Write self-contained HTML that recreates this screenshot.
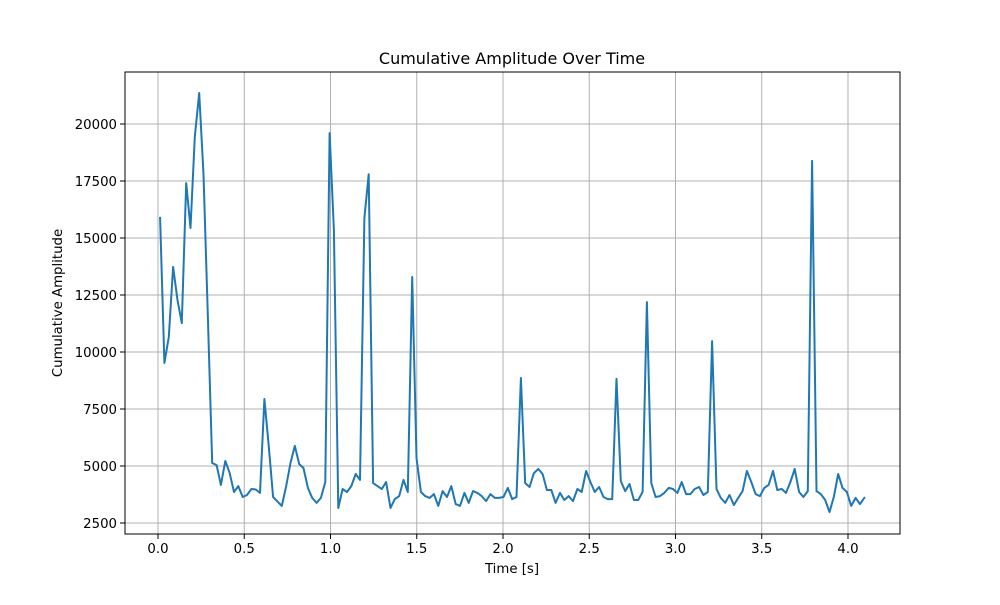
<!DOCTYPE html>
<html><head><meta charset="utf-8"><style>
body{margin:0;background:#fff;}
svg text{font-family:"DejaVu Sans","Liberation Sans",sans-serif;fill:#000;}
</style></head><body>
<svg id="chart" width="1000" height="600" xmlns="http://www.w3.org/2000/svg">
<rect width="1000" height="600" fill="#fff"/>
<g id="grid"></g>
<g id="ticks"></g>
<polyline id="series" fill="none" stroke="#1f77b4" stroke-width="2" stroke-linejoin="round" stroke-linecap="square"/>
<rect x="125" y="72" width="775" height="462" fill="none" stroke="#000" stroke-width="1"/>
<text x="512" y="64" text-anchor="middle" font-size="16">Cumulative Amplitude Over Time</text>
<text x="512" y="573" text-anchor="middle" font-size="13.3">Time [s]</text>
<text x="0" y="0" transform="translate(62,303) rotate(-90)" text-anchor="middle" font-size="13.3">Cumulative Amplitude</text>
</svg>
<script>
const amplitudes = [15880,9520,10660,13730,12280,11270,17410,15440,19430,21360,17800,11500,5130,5040,4170,5220,4700,3860,4120,3640,3730,3990,3970,3820,7940,5900,3640,3450,3250,4100,5130,5880,5090,4910,4040,3600,3380,3600,4300,19600,15350,3160,3990,3860,4120,4650,4390,15880,17800,4250,4120,3990,4300,3160,3550,3680,4390,3860,13290,5350,3860,3680,3600,
3770,3250,3900,3640,4120,3330,3250,3820,3380,3900,3820,3680,3460,3770,3600,3600,3640,4040,3550,3640,8860,4250,4080,4690,4870,4650,3950,3950,3380,3820,3510,
3680,3460,3990,3860,4780,4300,3860,4080,3640,3550,3550,8820,4340,3900,4210,3510,3510,3860,12190,4250,3640,3680,3820,4040,3990,3820,4300,3770,3770,3990,4080,3730,3860,
10480,3990,3600,3380,3730,3290,3600,3900,4780,4300,3770,3680,4040,4170,4780,3950,3990,3820,4300,4870,3860,3640,3900,18380,3900,3770,3510,2980,3640,4650,4040,3860,3250,3600,3330,3600];
const timeStart = 0.012;
const timeStep = 0.0252;
const xTicks = [0.0,0.5,1.0,1.5,2.0,2.5,3.0,3.5,4.0];
const xTickLabels = ["0.0","0.5","1.0","1.5","2.0","2.5","3.0","3.5","4.0"];
const yTicks = [2500,5000,7500,10000,12500,15000,17500,20000];
const yTickLabels = ["2500","5000","7500","10000","12500","15000","17500","20000"];

const NS="http://www.w3.org/2000/svg";
const X0=125,X1=900,Y0=534,Y1=72;
const xMin=-0.1913,xMax=4.3015,yMin=2018,yMax=22281;
function xs(t){return X0+(t-xMin)/(xMax-xMin)*(X1-X0);}
function ys(v){return Y0-(v-yMin)/(yMax-yMin)*(Y0-Y1);}
const grid=document.getElementById('grid'),ticks=document.getElementById('ticks');
function mk(tag,attrs,parent){const e=document.createElementNS(NS,tag);for(const k in attrs)e.setAttribute(k,attrs[k]);parent.appendChild(e);return e;}
xTicks.forEach((t,i)=>{
  const x=xs(t);
  const g=mk('line',{x1:x,x2:x,y1:Y1,y2:Y0,stroke:'#b0b0b0','stroke-width':1},grid);
  
  
  const tk=mk('line',{x1:x,x2:x,y1:Y0,y2:Y0+5,stroke:'#000','stroke-width':1},ticks);
  
  
  const tx=mk('text',{x:x,y:Y0+19,'text-anchor':'middle','font-size':13.3},ticks);
  tx.textContent=xTickLabels[i];
  
  
});
yTicks.forEach((v,i)=>{
  const y=ys(v);
  const g=mk('line',{x1:X0,x2:X1,y1:y,y2:y,stroke:'#b0b0b0','stroke-width':1},grid);
  
  
  const tk=mk('line',{x1:X0-5,x2:X0,y1:y,y2:y,stroke:'#000','stroke-width':1},ticks);
  
  
  const tx=mk('text',{x:X0-8,y:y+5,'text-anchor':'end','font-size':13.3},ticks);
  tx.textContent=yTickLabels[i];
  
  
});
document.getElementById('series').setAttribute('points',amplitudes.map((v,i)=>xs(timeStart+i*timeStep).toFixed(1)+','+ys(v).toFixed(1)).join(' '));
</script>
</body></html>
